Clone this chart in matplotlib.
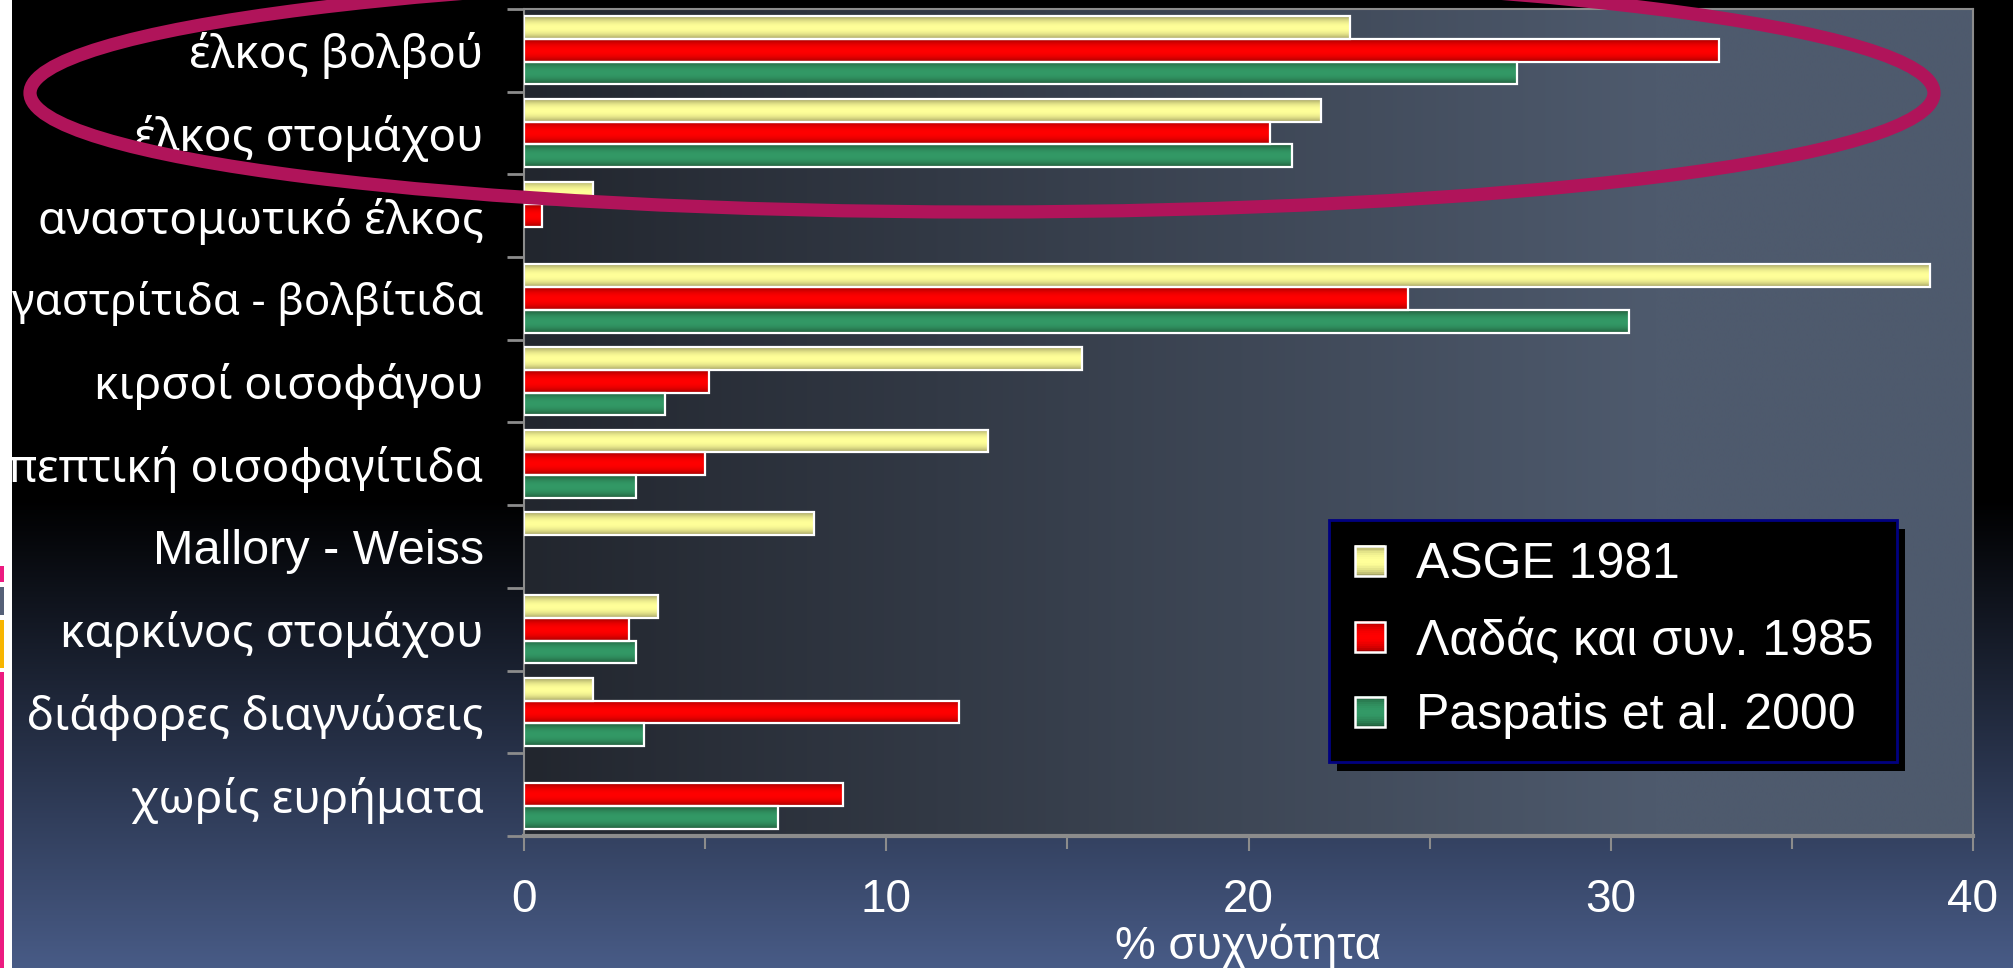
import numpy as np
import matplotlib
matplotlib.use('Agg')
import matplotlib.pyplot as plt
from matplotlib.patches import Rectangle, Ellipse
from matplotlib.colors import LinearSegmentedColormap
from matplotlib.legend_handler import HandlerBase

# ---------------- data ----------------
categories = ['έλκος βολβού', 'έλκος στομάχου', 'αναστομωτικό έλκος',
              'γαστρίτιδα - βολβίτιδα', 'κιρσοί οισοφάγου', 'πεπτική οισοφαγίτιδα',
              'Mallory - Weiss', 'καρκίνος στομάχου', 'διάφορες διαγνώσεις',
              'χωρίς ευρήματα']
series_names = ['ASGE 1981', 'Λαδάς και συν. 1985', 'Paspatis et al. 2000']
asge_1981 = [22.8, 22.0, 1.9, 38.8, 15.4, 12.8, 8.0, 3.7, 1.9, np.nan]
ladas_1985 = [33.0, 20.6, 0.5, 24.4, 5.1, 5.0, np.nan, 2.9, 12.0, 8.8]
paspatis_2000 = [27.4, 21.2, np.nan, 30.5, 3.9, 3.1, np.nan, 3.1, 3.3, 7.0]
x_ticks = [0, 10, 20, 30, 40]
x_minor_ticks = [5, 15, 25, 35]
x_label = '% συχνότητα'

series_values = [asge_1981, ladas_1985, paspatis_2000]
dark_colors = ['#858252', '#850000', '#1a472c']
bright_colors = ['#ffff99', '#ff0000', '#339966']

W, H = 2013, 968
fig = plt.figure(figsize=(W / 100, H / 100), dpi=100)
fig.patch.set_facecolor('black')

# figure background gradient (black top -> slate blue bottom)
bg = fig.add_axes([0, 0, 1, 1], zorder=-2)
bg.set_axis_off()
yy = np.linspace(0, 1, 400)  # 0 = top
start = 500 / H
tt = np.clip((yy - start) / (1 - start), 0, 1)
bottom_rgb = np.array([0x48, 0x5b, 0x86]) / 255
grad = tt[:, None, None] * bottom_rgb[None, None, :]
grad = np.repeat(grad, 2, axis=1)
bg.imshow(grad, aspect='auto', extent=(0, 1, 0, 1), interpolation='bilinear')
bg.set_xlim(0, 1)
bg.set_ylim(0, 1)

# left white strip and coloured marks (slide decoration)
fig.add_artist(Rectangle((0, 0), 12 / W, 1, transform=fig.transFigure,
                         facecolor='white', edgecolor='none', zorder=-1))
for (y0, y1, c) in [(566, 582, '#ec1a80'), (587, 615, '#556077'),
                    (620, 668, '#f7b500'), (672, 968, '#ec1a80')]:
    fig.add_artist(Rectangle((0, 1 - y1 / H), 4 / W, (y1 - y0) / H,
                             transform=fig.transFigure, facecolor=c,
                             edgecolor='none', zorder=-0.9))

# main axes
ax_l, ax_r, ax_t, ax_b = 524, 1973, 9, 836
ax = fig.add_axes([ax_l / W, 1 - ax_b / H, (ax_r - ax_l) / W, (ax_b - ax_t) / H])
ax.set_facecolor('#22262e')

# plot area horizontal gradient
xx = np.linspace(0, 1, 500)
left_rgb = np.array([0x22, 0x26, 0x2e]) / 255
right_rgb = np.array([0x4e, 0x5a, 0x6d]) / 255
f = np.clip(xx / 0.78, 0, 1)
pgrad = left_rgb[None, :] * (1 - f[:, None]) + right_rgb[None, :] * f[:, None]
pgrad = np.repeat(pgrad[None, :, :], 2, axis=0)
ax.imshow(pgrad, aspect='auto', extent=(0, 1, 0, 1), transform=ax.transAxes,
          interpolation='bilinear', zorder=0)

y = np.arange(len(categories))
bar_h = 0.275
offsets = [-bar_h, 0, bar_h]

t = np.linspace(0, 1, 64)
profile = np.sin(np.pi * t) ** 0.55
cmaps = []
for vals, off, dc, bc in zip(series_values, offsets, dark_colors, bright_colors):
    cont = ax.barh(y + off, vals, height=bar_h, facecolor='none',
                   edgecolor='white', linewidth=1.6, zorder=3)
    cmap = LinearSegmentedColormap.from_list('g', [dc, bc])
    cmaps.append(cmap)
    for r in cont.patches:
        w = r.get_width()
        if not np.isfinite(w) or w <= 0:
            continue
        x0, y0, hh = r.get_x(), r.get_y(), r.get_height()
        ax.imshow(profile[:, None], cmap=cmap, vmin=0, vmax=1, aspect='auto',
                  extent=(x0, x0 + w, y0 + hh, y0), interpolation='bilinear',
                  zorder=2)

ax.set_xlim(0, 40)
ax.set_ylim(len(categories) - 0.5, -0.5)

# ticks
grey = '#8c8c8c'
ax.set_yticks(y)
ax.set_yticklabels(categories)
ax.set_yticks(np.arange(-0.5, len(categories), 1), minor=True)
ax.tick_params(axis='y', which='major', length=0, pad=29, labelsize=33,
               labelcolor='white')
ax.tick_params(axis='y', which='minor', length=12, width=2, color=grey)
for lab in ax.get_yticklabels():
    txt = lab.get_text()
    if txt.startswith('Mallory'):
        lab.set_fontfamily(['Liberation Sans', 'DejaVu Sans'])
        lab.set_fontsize(35)
    else:
        lab.set_fontfamily(['Noto Sans', 'DejaVu Sans'])
        if txt.startswith('γαστρ'):
            lab.set_fontsize(31.5)

ax.set_xticks(x_ticks)
ax.set_xticklabels([str(v) for v in x_ticks], fontfamily=['Liberation Sans'])
ax.set_xticks(x_minor_ticks, minor=True)
ax.tick_params(axis='x', which='major', length=11, width=1.5, color=grey,
               labelsize=33, labelcolor='white', pad=19)
ax.tick_params(axis='x', which='minor', length=9, width=1.5, color=grey)
ax.set_xlabel(x_label, fontsize=33, color='white', labelpad=1,
              fontfamily=['Liberation Sans', 'DejaVu Sans'])

for s in ax.spines.values():
    s.set_color(grey)
    s.set_linewidth(1.5)
ax.spines['bottom'].set_linewidth(3)


# legend with gradient-filled square keys
class GradKey:
    def __init__(self, cmap):
        self.cmap = cmap


class HandlerGrad(HandlerBase):
    def create_artists(self, legend, orig_handle, xdescent, ydescent, width,
                       height, fontsize, trans):
        side = min(width, height)
        x0 = -xdescent + (width - side) / 2
        y0 = -ydescent + (height - side) / 2
        n = 16
        arts = []
        for i in range(n):
            v = np.sin(np.pi * (i + 0.5) / n) ** 0.55
            arts.append(Rectangle((x0, y0 + side * i / n), side, side / n + 0.3,
                                  facecolor=orig_handle.cmap(v), edgecolor='none',
                                  transform=trans))
        arts.append(Rectangle((x0, y0), side, side, facecolor='none',
                              edgecolor='white', linewidth=1.8, transform=trans))
        return arts


keys = [GradKey(c) for c in cmaps]
leg = ax.legend(keys, series_names, loc='upper left',
                handler_map={GradKey: HandlerGrad()},
                bbox_to_anchor=(1329 / W, 1 - 520 / H),
                bbox_transform=fig.transFigure, borderaxespad=0,
                prop={'family': ['Liberation Sans', 'DejaVu Sans'], 'size': 36},
                labelcolor='white', frameon=True, fancybox=False,
                framealpha=1, facecolor='black', edgecolor='#000080',
                handlelength=0.75, handleheight=0.55, handletextpad=0.55,
                labelspacing=0.58, borderpad=0.45)
leg.get_frame().set_linewidth(2)
leg.set_zorder(6)

fig.canvas.draw()
bb = leg.get_window_extent().transformed(ax.transAxes.inverted())
ox, oy = 8 / (ax_r - ax_l), 9 / (ax_b - ax_t)
ax.add_patch(Rectangle((bb.x0 + ox, bb.y0 - oy), bb.width, bb.height,
                       transform=ax.transAxes, facecolor='black', edgecolor='none',
                       zorder=5.5, clip_on=False))

# highlight ellipse
fig.add_artist(Ellipse((982 / W, 1 - 93 / H), 1904 / W, 238 / H,
                       transform=fig.transFigure, facecolor='none',
                       edgecolor='#b0145a', linewidth=9.5, zorder=10))

fig.savefig('out.png', dpi=100, facecolor=fig.get_facecolor())
